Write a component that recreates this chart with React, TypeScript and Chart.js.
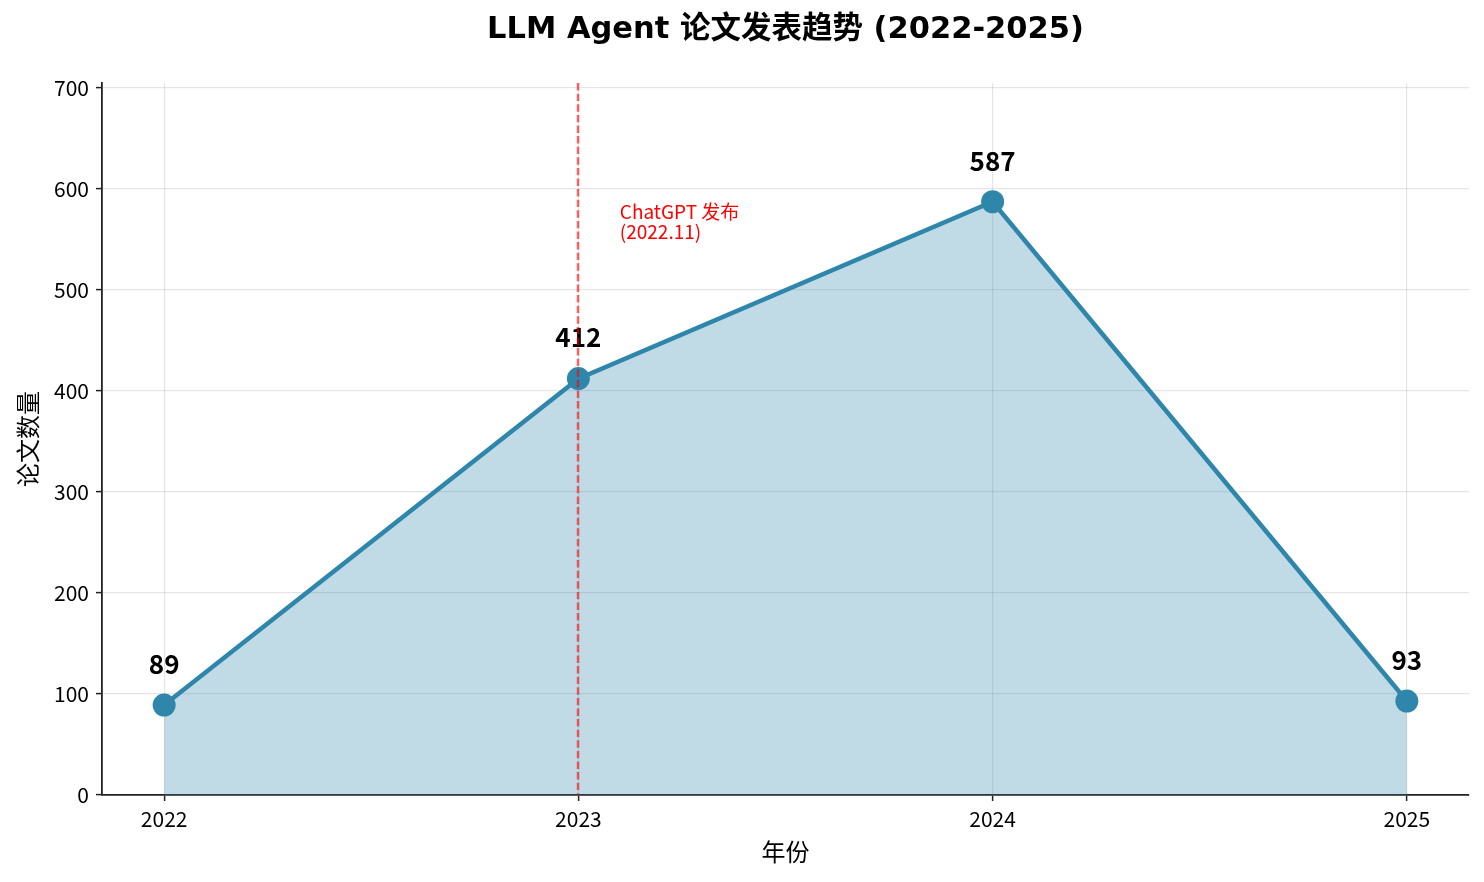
import { useEffect, useRef } from 'react'
import { Chart, registerables } from 'chart.js'

Chart.register(...registerables)

const YEARS = [2022, 2023, 2024, 2025]
const PAPERS = [89, 412, 587, 93]
const Y_TICKS = [0, 100, 200, 300, 400, 500, 600, 700]
const CHATGPT_YEAR = 2023
const CHATGPT_NOTE = ['ChatGPT 发布', '(2022.11)']
const NOTE_X = 2023.1
const NOTE_Y = 550

const FONT = '"Noto Sans CJK SC", "Noto Sans", sans-serif'
const TITLE_FONT = '"DejaVu Sans", "Noto Sans CJK SC", sans-serif'
const LINE = '#2E86AB'

// value labels above the points + the ChatGPT marker line
const overlay = {
  id: 'overlay',
  afterDatasetsDraw(chart: any) {
    const { ctx, chartArea, scales } = chart
    const meta = chart.getDatasetMeta(0)
    ctx.save()

    ctx.font = `bold 26px ${FONT}`
    ctx.fillStyle = '#000'
    ctx.textAlign = 'center'
    ctx.textBaseline = 'middle'
    meta.data.forEach((pt: any, i: number) => {
      ctx.fillText(String(PAPERS[i]), pt.x, pt.y - 41)
    })

    const lx = Math.round(scales.x.getPixelForValue(CHATGPT_YEAR))
    ctx.strokeStyle = 'rgba(255, 0, 0, 0.6)'
    ctx.lineWidth = 2.5
    ctx.setLineDash([7.4, 3.2])
    ctx.beginPath()
    ctx.moveTo(lx, chartArea.top)
    ctx.lineTo(lx, chartArea.bottom)
    ctx.stroke()
    ctx.setLineDash([])

    ctx.font = `19px ${FONT}`
    ctx.fillStyle = '#ff0000'
    ctx.textAlign = 'left'
    ctx.textBaseline = 'alphabetic'
    const tx = scales.x.getPixelForValue(NOTE_X)
    const ty = scales.y.getPixelForValue(NOTE_Y)
    CHATGPT_NOTE.forEach((line, i) => {
      ctx.fillText(line, tx, ty - (CHATGPT_NOTE.length - 1 - i) * 20)
    })
    ctx.restore()
  },
}

export default function App() {
  const canvasRef = useRef<HTMLCanvasElement>(null)

  useEffect(() => {
    if (!canvasRef.current) return
    Chart.defaults.font.family = FONT
    Chart.defaults.color = '#000'

    const chart = new Chart(canvasRef.current, {
      type: 'line',
      data: {
        datasets: [{
          data: YEARS.map((y, i) => ({ x: y, y: PAPERS[i] })),
          borderColor: LINE,
          borderWidth: 4.5,
          backgroundColor: 'rgba(46, 134, 171, 0.3)',
          fill: 'origin',
          tension: 0,
          pointRadius: 11.5,
          pointBackgroundColor: LINE,
          pointBorderWidth: 0,
        }]
      },
      options: {
        animation: false,
        responsive: true,
        maintainAspectRatio: false,
        layout: { padding: { left: 0, right: 15, top: 0, bottom: 0 } },
        plugins: {
          legend: { display: false },
          tooltip: { enabled: false },
          title: {
            display: true,
            text: 'LLM Agent 论文发表趋势 (2022-2025)',
            fullSize: false,
            color: '#000',
            font: { size: 30.5, weight: 'bold', family: TITLE_FONT },
            padding: { top: 12, bottom: 34.5 },
          },
        },
        scales: {
          x: {
            type: 'linear',
            min: 2021.85,
            max: 2025.15,
            afterBuildTicks: (scale: any) => { scale.ticks = YEARS.map(v => ({ value: v })) },
            afterFit: (scale: any) => { scale.height = 87 },
            ticks: { font: { size: 21 }, padding: 5, callback: (v: any) => String(v) },
            grid: { color: 'rgba(0,0,0,0.1)', lineWidth: 1.2, tickColor: '#222', tickLength: 6, tickWidth: 1.5 },
            border: { color: '#222', width: 1.8 },
            title: { display: true, text: '年份', font: { size: 24 }, padding: { bottom: 15.6 } },
          },
          y: {
            min: 0,
            max: 704.4,
            afterBuildTicks: (scale: any) => { scale.ticks = Y_TICKS.map(v => ({ value: v })) },
            afterFit: (scale: any) => { scale.width = 102 },
            ticks: { font: { size: 21 }, padding: 7 },
            grid: { color: 'rgba(0,0,0,0.1)', lineWidth: 1.2, tickColor: '#222', tickLength: 6, tickWidth: 1.5 },
            border: { color: '#222', width: 1.8 },
            title: { display: true, text: '论文数量', font: { size: 24 }, padding: { top: 13 } },
          },
        },
      },
      plugins: [overlay],
    })

    return () => chart.destroy()
  }, [])

  return (
    <div style={{ position: 'absolute', left: 0, top: 0, width: 1484, height: 882, background: '#fff' }}>
      <canvas ref={canvasRef} />
    </div>
  )
}
